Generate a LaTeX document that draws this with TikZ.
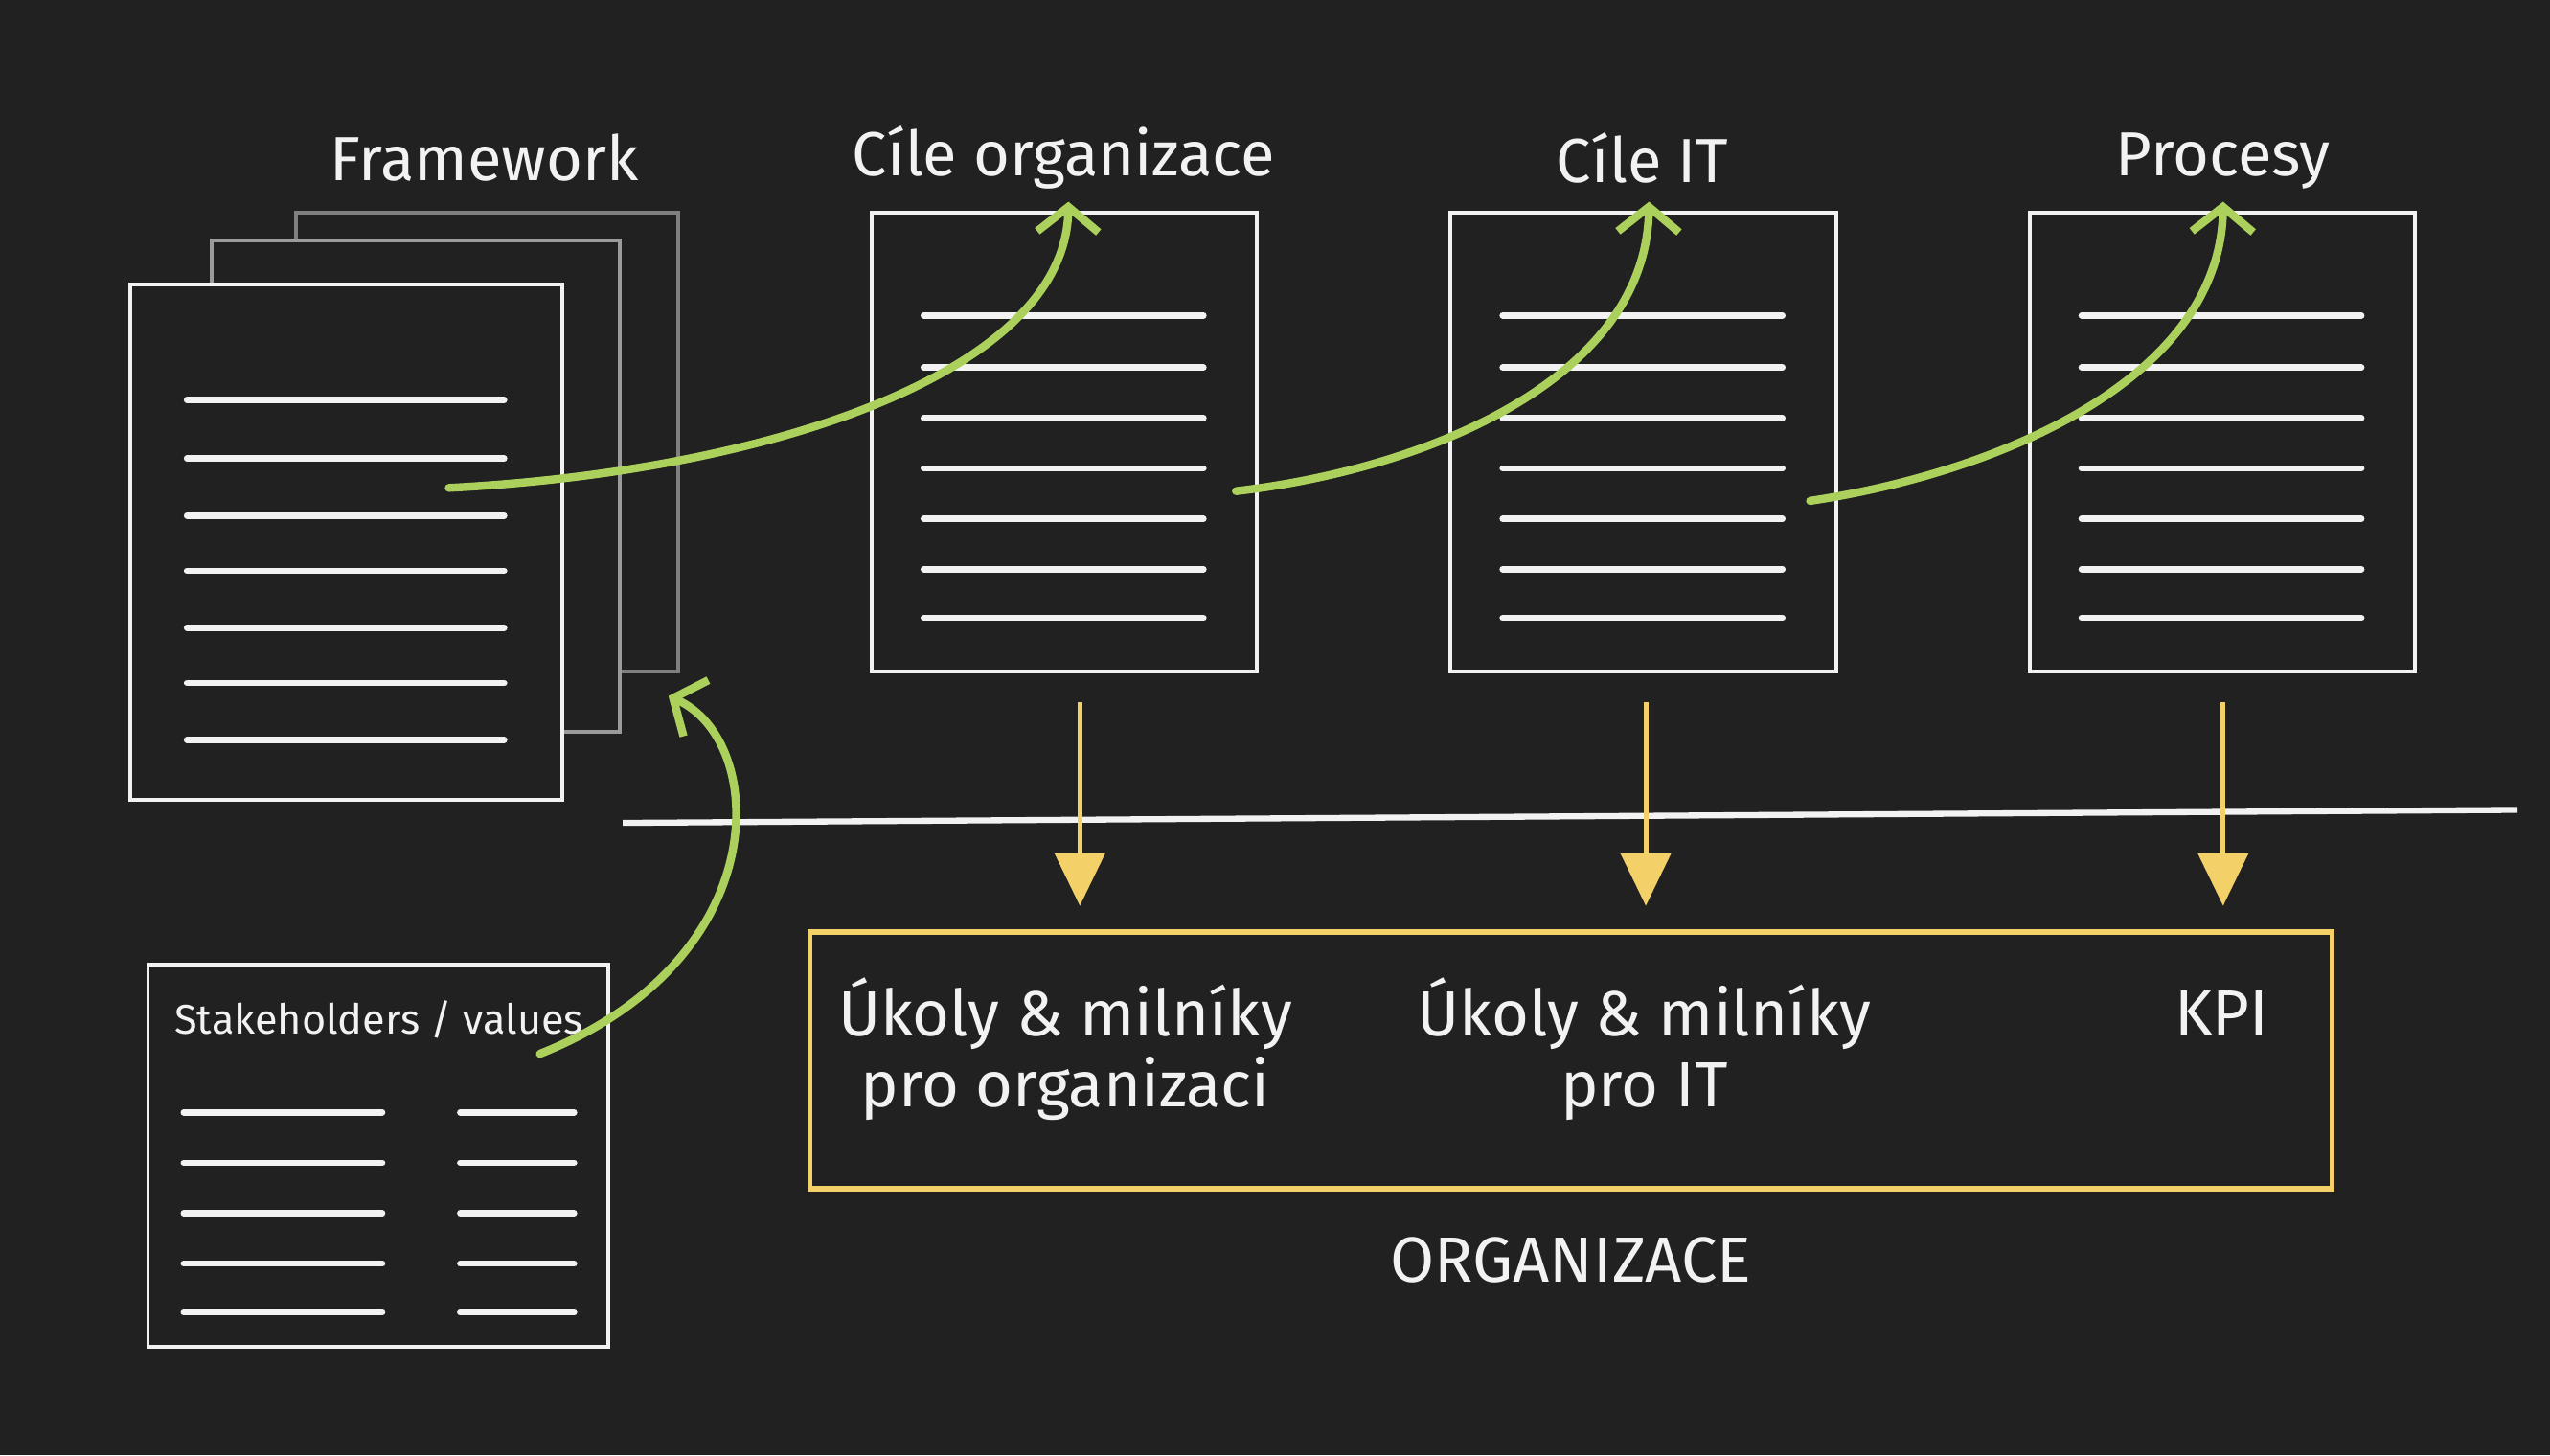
\documentclass[tikz,border=0pt]{standalone}
\usepackage{fontspec}
\setmainfont{Fira Sans}
\usetikzlibrary{arrows.meta,fit}
\definecolor{bg}{RGB}{33,33,33}
\definecolor{chalk}{RGB}{242,242,242}
\definecolor{lime}{RGB}{172,208,92}
\definecolor{gold}{RGB}{244,208,104}
\definecolor{pageB}{RGB}{128,128,128}
\definecolor{pageM}{RGB}{155,155,155}
\begin{document}
\begin{tikzpicture}[x=0.016977cm,y=-0.016977cm,
  page/.style={draw=chalk, line width=1.1pt, fill=bg, inner sep=0pt},
  txtline/.style={draw=chalk, line width=1.9pt, line cap=round},
  title/.style={text=chalk, font=\fontsize{18.5}{21}\selectfont},
  boxtxt/.style={text=chalk, font=\fontsize{19}{21}\selectfont, align=center},
  garrow/.style={draw=lime, line width=2.4pt, line cap=round, -{Straight Barb[length=2.6mm,width=6.4mm]}},
  yarrow/.style={draw=gold, line width=1.4pt, -{Triangle[length=5.5mm,width=5.2mm]}},
]
% background / bounding box
\fill[bg] (0,0) rectangle (1568,895);
\useasboundingbox (0,0) rectangle (1568,895);

% Framework stack
\node[page, draw=pageB, fit={(182,131) (417,413)}] (fwB) {};
\node[page, draw=pageM, fit={(130,148) (381,450)}] (fwM) {};
\node[page, fit={(80,175) (346,492)}] (fwF) {};
\foreach \y in {246,282,317,351,386,420,455}
  \draw[txtline] (115,\y) -- (310,\y);

% three documents
\node[page, fit={(536,131) (773,413)}] (org) {};
\node[page, fit={(892,131) (1129,413)}] (it) {};
\node[page, fit={(1248,131) (1485,413)}] (proc) {};
\foreach \x in {568,924,1280}
  \foreach \y in {194,226,257,288,319,350,380}
    \draw[txtline] (\x,\y) -- (\x+172,\y);

% titles
\node[title] (tFw)   at (298,97) {Framework};
\node[title] (tOrg)  at (654,97) {Cíle organizace};
\node[title] (tIt)   at (1010,97) {Cíle IT};
\node[title] (tProc) at (1367,99) {Procesy};

% stakeholders box
\node[page, fit={(91,593) (374,828)}] (stake) {};
\node[text=chalk, font=\fontsize{12.3}{14}\selectfont] (tStake) at (233,627) {Stakeholders / values};
\foreach \y in {684,715,746,777,807}{
  \draw[txtline] (113,\y) -- (235,\y);
  \draw[txtline] (283,\y) -- (353,\y);
}

% separator
\coordinate (sepL) at (383,506);
\coordinate (sepR) at (1548,498);
\draw[draw=chalk, line width=1.8pt] (sepL) -- (sepR);

% organisation box
\node[page, draw=gold, line width=1.6pt, fill=none, fit={(498,573) (1434,731)}] (orgbox) {};
\node[boxtxt] (uOrg) at (655,645) {Úkoly \& milníky\\pro organizaci};
\node[boxtxt] (uIt)  at (1011,645) {Úkoly \& milníky\\pro IT};
\node[boxtxt] (kpi)  at (1366,623) {KPI};
\node[text=chalk, font=\fontsize{19}{21}\selectfont] (tOrgz) at (966,775) {ORGANIZACE};

% green arrows
\coordinate (g1s) at (276,300); \coordinate (g1e) at (657,124);
\coordinate (g2s) at (760,302); \coordinate (g2e) at (1014,124);
\coordinate (g3s) at (1113,308); \coordinate (g3e) at (1367,124);
\coordinate (g4s) at (332,648); \coordinate (g4e) at (411,428);
\draw[garrow] (g1s) .. controls (470,290) and (655,230) .. (g1e);
\draw[garrow] (g2s) .. controls (880,288) and (1012,232) .. (g2e);
\draw[garrow] (g3s) .. controls (1232,290) and (1365,232) .. (g3e);
\draw[garrow] (g4s) .. controls (478,590) and (472,455) .. (g4e);

% yellow arrows
\coordinate (y1s) at (664,432); \coordinate (y1e) at (664,557);
\coordinate (y2s) at (1012,432); \coordinate (y2e) at (1012,557);
\coordinate (y3s) at (1367,432); \coordinate (y3e) at (1367,557);
\draw[yarrow] (y1s) -- (y1e);
\draw[yarrow] (y2s) -- (y2e);
\draw[yarrow] (y3s) -- (y3e);
\end{tikzpicture}
\end{document}
